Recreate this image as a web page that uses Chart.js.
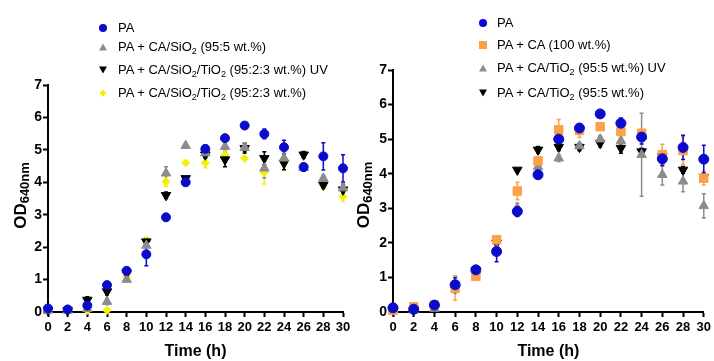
<!DOCTYPE html>
<html><head><meta charset="utf-8">
<script src="https://cdn.jsdelivr.net/npm/chart.js@4/dist/chart.umd.min.js"></script>
<style>
html,body{margin:0;padding:0;background:#fff;width:714px;height:361px;overflow:hidden;font-family:"Liberation Sans",Arial,sans-serif}
.panel{position:absolute;top:0;width:357px;height:361px}
#p1{left:0}#p2{left:357px}
canvas{position:absolute;left:0;top:0}
.row{position:absolute;white-space:nowrap;height:16px;line-height:16px;font-size:13px;color:#000}
.row svg{position:absolute;top:3px}
sub{font-size:9px;vertical-align:-3px;line-height:0}
</style>
</head><body>
<div class="panel" id="p1"><canvas id="c1" width="357" height="361"></canvas></div>
<div class="panel" id="p2"><canvas id="c2" width="357" height="361"></canvas></div>
<script>
// ---- data ----
const times = [0,2,4,6,8,10,12,14,16,18,20,22,24,26,28,30];
const xTicks = [0,2,4,6,8,10,12,14,16,18,20,22,24,26,28,30];
const yTicks = [0,1,2,3,4,5,6,7];

// left panel
const leftPA       = [0.11,0.08,0.20,0.83,1.27,1.78,2.92,4.00,5.03,5.36,5.75,5.49,5.08,4.47,4.80,4.43];
const leftPAErr    = [0,0,0.05,0.10,0.05,0.35,0.10,0.05,0.12,0.10,0.05,0.15,0.22,0.12,0.42,0.42];
const leftCaSiO2   = [0.05,0.05,0.10,0.32,1.00,2.05,4.28,5.13,4.90,5.10,5.07,4.43,4.74,4.45,4.12,3.82];
const leftCaSiO2Err= [0,0,0,0.10,0,0,0.20,0,0.10,0.10,0.10,0.30,0.15,0.10,0.10,0.15];
const leftSiTiUV   = [0.05,0.05,0.37,0.63,1.20,2.17,3.60,4.12,4.85,4.70,5.05,4.74,4.59,4.85,3.92,3.77];
const leftSiTiUVErr= [0,0,0.10,0.10,0,0.10,0.10,0.05,0.10,0.22,0.15,0.20,0.20,0.10,0.10,0.15];
const leftSiTi     = [0.03,0.03,0.05,0.05,1.10,2.20,4.02,4.60,4.60,4.85,4.74,4.30,4.60,4.50,3.89,3.56];
const leftSiTiErr  = [0,0,0,0,0,0.10,0.15,0,0.15,0.15,0,0.35,0.15,0.10,0.10,0.15];

// right panel
const rightPA      = [0.12,0.08,0.20,0.79,1.22,1.75,2.91,3.97,5.00,5.32,5.73,5.46,5.06,4.43,4.76,4.42];
const rightPAErr   = [0,0,0.05,0.20,0.05,0.30,0.15,0.05,0.10,0.10,0.05,0.15,0.20,0.20,0.35,0.40];
const rightCA      = [0.05,0.15,0.20,0.69,1.03,2.09,3.50,4.37,5.27,5.25,5.36,5.22,5.17,4.55,4.67,3.87];
const rightCAErr   = [0,0.10,0.10,0.35,0.10,0.10,0.25,0.10,0.30,0.20,0.10,0.30,0.10,0.30,0.40,0.20];
const rightTiUV    = [0.05,0.05,0.10,0.80,1.20,1.80,3.00,4.20,4.45,4.80,5.00,4.95,4.55,3.97,3.78,3.07];
const rightTiUVErr = [0,0,0,0.25,0,0,0.15,0.10,0.10,0.10,0.10,0.10,1.20,0.30,0.30,0.35];
const rightTi      = [0.05,0.05,0.10,0.70,1.20,2.00,4.11,4.69,4.77,4.77,4.88,4.74,4.64,4.50,4.11,3.90];
const rightTiErr   = [0,0,0,0,0,0,0,0.10,0.10,0.10,0.10,0.15,0.10,0.10,0.10,0.10];

const leftLabels  = ['PA','PA + CA/SiO<sub>2</sub> (95:5 wt.%)','PA + CA/SiO<sub>2</sub>/TiO<sub>2</sub> (95:2:3 wt.%) UV','PA + CA/SiO<sub>2</sub>/TiO<sub>2</sub> (95:2:3 wt.%)'];
const rightLabels = ['PA','PA + CA (100 wt.%)','PA + CA/TiO<sub>2</sub> (95:5 wt.%) UV','PA + CA/TiO<sub>2</sub> (95:5 wt.%)'];

// ---- styles ----
const BLUE='#0b0bcc', GRAY='#8c8c8c', BLACK='#000000', YELLOW='#f5f000', ORANGE='#fba14a';
const FONT='"Liberation Sans", Arial, sans-serif';

function pts(vals){ return times.map((t,i)=>({x:t,y:vals[i]})); }
function ds(label, vals, errs, color, style, radius, rotation){
  return {label, data:pts(vals), errors:errs, backgroundColor:color, borderColor:color,
    pointStyle:style, pointRadius:radius, pointRotation:rotation||0, pointBorderWidth:1,
    showLine:false, clip:false};
}

const errorBars = {
  id:'errorBars',
  beforeDatasetsDraw(chart){
    const ctx=chart.ctx, xs=chart.scales.x, ys=chart.scales.y;
    for(let i=chart.data.datasets.length-1;i>=0;i--){
      const d=chart.data.datasets[i]; if(!d.errors) continue;
      ctx.save(); ctx.strokeStyle=d.borderColor; ctx.lineWidth=1.5;
      d.data.forEach((p,j)=>{
        const e=d.errors[j]; if(!e) return;
        const x=xs.getPixelForValue(p.x), y1=ys.getPixelForValue(p.y+e), y2=ys.getPixelForValue(Math.max(0,p.y-e));
        ctx.beginPath();
        ctx.moveTo(x,y1);ctx.lineTo(x,y2);
        ctx.moveTo(x-2,y1);ctx.lineTo(x+2,y1);
        ctx.moveTo(x-2,y2);ctx.lineTo(x+2,y2);
        ctx.stroke();
      });
      ctx.restore();
    }
  }
};

const yTitle = {
  id:'yTitle',
  afterDraw(chart, args, opts){
    const ctx=chart.ctx;
    ctx.save();
    ctx.translate(opts.x, (chart.chartArea.top+chart.chartArea.bottom)/2 + opts.dy);
    ctx.rotate(-Math.PI/2);
    ctx.fillStyle='#000'; ctx.textBaseline='alphabetic'; ctx.textAlign='left';
    ctx.font='bold 17px '+FONT; const w1=ctx.measureText('OD').width;
    ctx.font='bold 13px '+FONT; const w2=ctx.measureText('640nm').width;
    const s=-(w1+w2)/2;
    ctx.font='bold 17px '+FONT; ctx.fillText('OD', s, 0);
    ctx.font='bold 13px '+FONT; ctx.fillText('640nm', s+w1, 3);
    ctx.restore();
  }
};

function makeChart(id, datasets, yW, pad, titleX, titleDy){
  return new Chart(document.getElementById(id), {
    type:'scatter',
    data:{datasets},
    plugins:[errorBars, yTitle],
    options:{
      responsive:false, animation:false, devicePixelRatio:1,
      layout:{padding:pad},
      plugins:{legend:{display:false}, tooltip:{enabled:false}, yTitle:{x:titleX, dy:titleDy}},
      scales:{
        x:{type:'linear', min:0, max:30,
          afterFit:(s)=>{s.height=49;},
          afterBuildTicks:(s)=>{s.ticks=xTicks.map(v=>({value:v}));},
          border:{display:true,color:'#000',width:2},
          grid:{display:true,drawOnChartArea:false,drawTicks:true,tickLength:5,tickWidth:2,tickColor:'#000'},
          ticks:{autoSkip:false,maxRotation:0,padding:3,color:'#000',font:{family:FONT,size:13,weight:'bold'}},
          title:{display:true,text:'Time (h)',color:'#000',padding:{top:0,bottom:0},font:{family:FONT,size:16,weight:'bold'}}
        },
        y:{type:'linear', min:0, max:7,
          afterFit:(s)=>{s.width=yW;},
          afterBuildTicks:(s)=>{s.ticks=yTicks.map(v=>({value:v}));},
          border:{display:true,color:'#000',width:2},
          grid:{display:true,drawOnChartArea:false,drawTicks:true,tickLength:5,tickWidth:2,tickColor:'#000'},
          ticks:{padding:1,color:'#000',font:{family:FONT,size:14,weight:'bold'}},
          title:{display:false}
        }
      }
    }
  });
}

makeChart('c1', [
  ds('PA', leftPA, leftPAErr, BLUE, 'circle', 4.5),
  ds('PA + CA/SiO2 (95:5 wt.%)', leftCaSiO2, leftCaSiO2Err, GRAY, 'triangle', 5.5),
  ds('PA + CA/SiO2/TiO2 (95:2:3 wt.%) UV', leftSiTiUV, leftSiTiUVErr, BLACK, 'triangle', 5.5, 180),
  ds('PA + CA/SiO2/TiO2 (95:2:3 wt.%)', leftSiTi, leftSiTiErr, YELLOW, 'rectRot', 4)
], 48, {top:85,right:14,left:0,bottom:0}, 26, -3);

makeChart('c2', [
  ds('PA', rightPA, rightPAErr, BLUE, 'circle', 5),
  ds('PA + CA (100 wt.%)', rightCA, rightCAErr, ORANGE, 'rect', 6),
  ds('PA + CA/TiO2 (95:5 wt.%) UV', rightTiUV, rightTiUVErr, GRAY, 'triangle', 5.5),
  ds('PA + CA/TiO2 (95:5 wt.%)', rightTi, rightTiErr, BLACK, 'triangle', 5.5, 180)
], 36, {top:70,right:9,left:0,bottom:0}, 12, 4);

// ---- legends (HTML) ----
const markers = {
  circle:(c)=>`<svg width="10" height="10"><circle cx="5" cy="5" r="4" fill="${c}"/></svg>`,
  up:(c)=>`<svg width="10" height="10"><polygon points="5,1.5 9,8.5 1,8.5" fill="${c}"/></svg>`,
  down:(c)=>`<svg width="10" height="10"><polygon points="1,1.5 9,1.5 5,8.5" fill="${c}"/></svg>`,
  diamond:(c)=>`<svg width="10" height="10"><polygon points="5,1.5 8.5,5 5,8.5 1.5,5" fill="${c}"/></svg>`,
  square:(c)=>`<svg width="10" height="10"><rect x="1" y="1" width="8" height="8" fill="${c}"/></svg>`
};
function legend(panelId, labels, marks, colors, ys, mx, tx){
  const p=document.getElementById(panelId);
  labels.forEach((l,i)=>{
    const r=document.createElement('div'); r.className='row';
    r.style.left=(mx-5)+'px'; r.style.top=(ys[i]-8)+'px';
    r.innerHTML=markers[marks[i]](colors[i])+`<span style="position:absolute;left:${tx-mx+5}px;top:0">${l}</span>`;
    p.appendChild(r);
  });
}
legend('p1', leftLabels, ['circle','up','down','diamond'], [BLUE,GRAY,BLACK,YELLOW], [28,47,70,93], 103, 118);
legend('p2', rightLabels, ['circle','square','up','down'], [BLUE,ORANGE,GRAY,BLACK], [23,45,68,93], 126, 140);
</script>
</body></html>
